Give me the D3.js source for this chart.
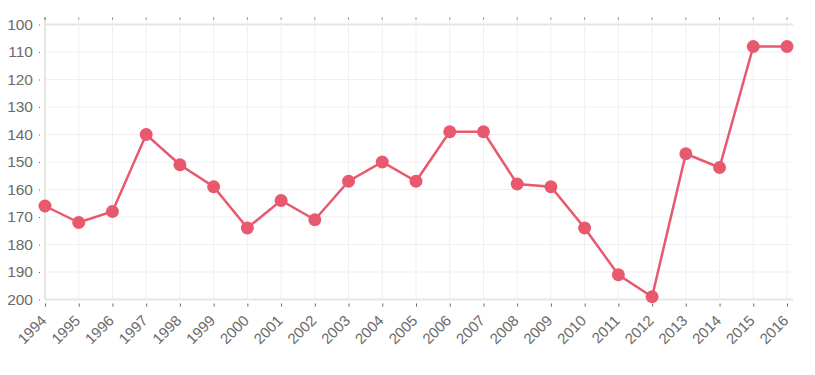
<!DOCTYPE html>
<html>
<head>
<meta charset="utf-8">
<script src="https://cdn.jsdelivr.net/npm/d3@7"></script>
<style>
  body { margin: 0; background: #fff; }
  svg { display: block; font-family: "Liberation Sans", Arial, sans-serif; }
</style>
</head>
<body>
<svg width="815" height="375"></svg>
<script>
let years = ['1994', '1995', '1996', '1997', '1998', '1999', '2000', '2001', '2002', '2003', '2004', '2005',
  '2006', '2007', '2008', '2009', '2010', '2011', '2012', '2013', '2014', '2015', '2016'];
let values = [166, 172, 168, 140, 151, 159, 174, 164, 171, 157, 150, 157,
  139, 139, 158, 159, 174, 191, 199, 147, 152, 108, 108];
let yTicks = [100, 110, 120, 130, 140, 150, 160, 170, 180, 190, 200];

let color = '#e9596e';
let plotLeft = 45, plotRight = 787, plotTop = 24.5, plotBottom = 299.5;

let svg = d3.select('svg');

let x = d3.scalePoint().domain(years).range([plotLeft, plotRight]);
let y = d3.scaleLinear().domain([100, 200]).range([plotTop, plotBottom]);

// grid
svg.append('g')
  .selectAll('line')
  .data(yTicks)
  .enter()
  .append('line')
  .attr('x1', plotLeft)
  .attr('x2', plotRight + 6)
  .attr('y1', (d) => y(d))
  .attr('y2', (d) => y(d))
  .attr('stroke', (d) => (d === 100 || d === 200 ? '#e6e6e6' : '#efefef'))
  .attr('stroke-width', (d) => (d === 100 || d === 200 ? 2 : 1));

svg.append('g')
  .selectAll('line')
  .data(years)
  .enter()
  .append('line')
  .attr('x1', (d) => x(d))
  .attr('x2', (d) => x(d))
  .attr('y1', plotTop - 6)
  .attr('y2', plotBottom)
  .attr('stroke', (d, i) => (i === 0 ? '#e6e6e6' : '#efefef'))
  .attr('stroke-width', (d, i) => (i === 0 ? 2 : 1));

// top tick marks
svg.append('g')
  .selectAll('rect')
  .data(years)
  .enter()
  .append('rect')
  .attr('x', (d) => x(d) - 0.5)
  .attr('y', plotTop - 7)
  .attr('width', 1)
  .attr('height', 2)
  .attr('fill', (d, i) => (i === 0 ? '#222' : '#777'));

// x axis
let xAxis = svg.append('g')
  .attr('transform', `translate(0,${plotBottom + 4})`)
  .call(d3.axisBottom(x).tickSize(3));
xAxis.select('.domain').remove();
xAxis.selectAll('.tick line').attr('stroke', '#666');
xAxis.selectAll('.tick text')
  .attr('fill', '#6b6b6b')
  .attr('font-size', 15)
  .attr('text-anchor', 'end')
  .attr('x', 0)
  .attr('y', 0)
  .attr('dy', 0)
  .attr('transform', 'translate(2,18) rotate(-45)');

// y axis
let yAxis = svg.append('g')
  .attr('transform', `translate(${plotLeft - 5},0)`)
  .call(d3.axisLeft(y).tickValues(yTicks).tickSize(1).tickPadding(6));
yAxis.select('.domain').remove();
yAxis.selectAll('.tick line').attr('stroke', '#666');
yAxis.selectAll('.tick text')
  .attr('fill', '#6b6b6b')
  .attr('font-size', 15.5);

// line
let line = d3.line()
  .x((d, i) => x(years[i]))
  .y((d) => y(d));

svg.append('path')
  .datum(values)
  .attr('d', line)
  .attr('fill', 'none')
  .attr('stroke', color)
  .attr('stroke-width', 2.5);

svg.append('g')
  .selectAll('circle')
  .data(values)
  .enter()
  .append('circle')
  .attr('cx', (d, i) => x(years[i]))
  .attr('cy', (d) => y(d))
  .attr('r', 6.5)
  .attr('fill', color);
</script>
</body>
</html>
